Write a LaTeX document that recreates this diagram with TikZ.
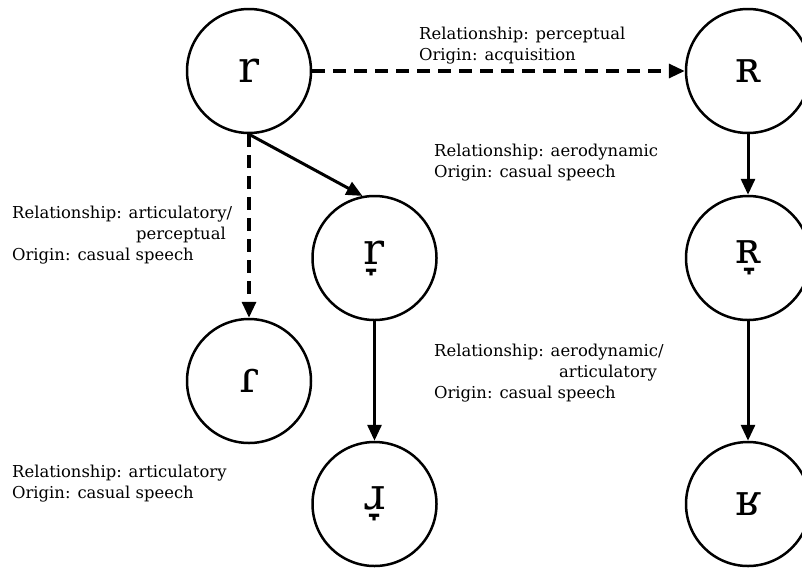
\documentclass[tikz,border=0pt]{standalone}
\usepackage{fontspec}
\setmainfont{DejaVu Serif}
\usetikzlibrary{arrows.meta}
\begin{document}
\begin{tikzpicture}[x=1pt,y=-1pt,
  sound/.style={draw, circle, line width=2.5pt, minimum size=124pt, inner sep=0pt,
                font=\fontsize{44}{44}\selectfont},
  note/.style={anchor=north west, inner sep=0pt, align=left,
               font=\fontsize{16.4}{21}\selectfont},
  solidarrow/.style={line width=3pt, -{Triangle[length=16pt,width=14pt]}},
  dasharrow/.style={line width=3.2pt, dash pattern=on 13pt off 8pt,
                    -{Triangle[length=16pt,width=14pt]}}]
\useasboundingbox (0,0) rectangle (802,568);

% sounds
\node[sound] (r)     at (249,71)    {r};
\node[sound] (rlow)  at (374.5,258) {r̞};
\node[sound] (flap)  at (249,381)   {ɾ};
\node[sound] (appr)  at (374.5,504) {ɹ̞};
\node[sound] (uvr)   at (748,71)    {ʀ};
\node[sound] (uvlow) at (748,258)   {ʀ̞};
\node[sound] (fric)  at (748,504)   {ʁ};

% connections
\draw[dasharrow]  (r.east) -- (uvr.west);
\draw[dasharrow]  (r.south) -- (flap.north);
\draw[solidarrow] (r.south) -- (rlow.101);
\draw[solidarrow] (rlow.south) -- (appr.north);
\draw[solidarrow] (uvr.south) -- (uvlow.north);
\draw[solidarrow] (uvlow.south) -- (fric.north);

% descriptions
\node[note] (n1) at (419,26.5)  {Relationship: perceptual\\Origin: acquisition};
\node[note] (n2) at (434,143.5) {Relationship: aerodynamic\\Origin: casual speech};
\node[note] (n3) at (12,205.5)  {Relationship: articulatory/\\\hspace*{124pt}perceptual\\Origin: casual speech};
\node[note] (n4) at (434,343.5) {Relationship: aerodynamic/\\\hspace*{125pt}articulatory\\Origin: casual speech};
\node[note] (n5) at (12,464.5)  {Relationship: articulatory\\Origin: casual speech};
\end{tikzpicture}
\end{document}
